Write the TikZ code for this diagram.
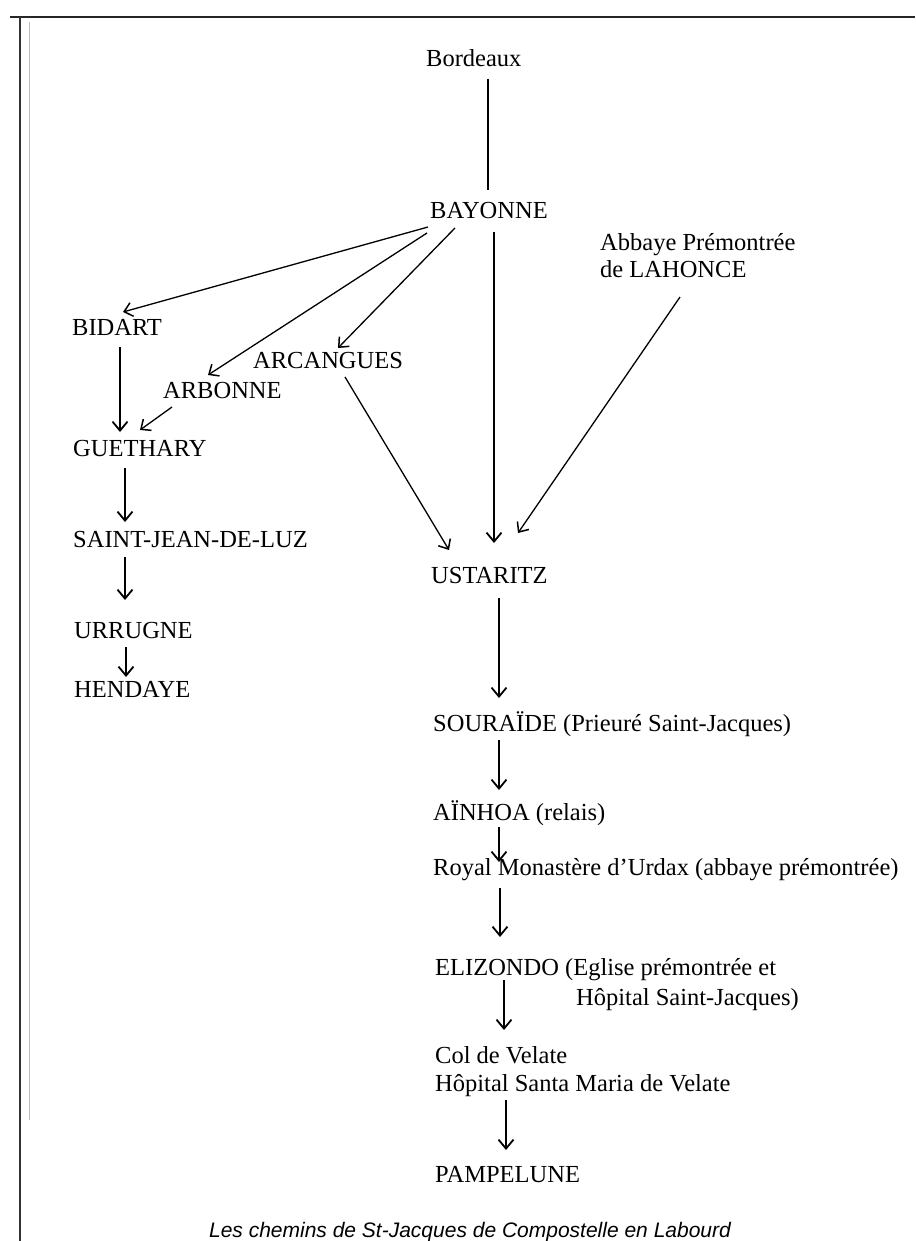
\documentclass[tikz,border=0pt]{standalone}
\usepackage{fontspec}
\setmainfont{Liberation Serif}
\newfontfamily\capfont{Liberation Sans}
\usetikzlibrary{arrows.meta}
\begin{document}
\begin{tikzpicture}[x=1pt,y=-1pt,
  place/.style={anchor=west,inner sep=0pt,text height=18pt,text depth=5.5pt,font=\fontsize{24.5}{27}\selectfont},
  placetwo/.style={anchor=west,inner sep=0pt,font=\fontsize{24.5}{27}\selectfont},
  arr/.style={line width=1.8pt,-{Straight Barb[length=9pt,width=15pt,line width=1.8pt]}},
  darr/.style={line width=1.3pt,-{Straight Barb[length=8pt,width=14pt,line width=1.5pt]}},
  plain/.style={line width=1.5pt}]
\useasboundingbox (0,0) rectangle (915,1241);
% frame
\draw[line width=2.5pt,black!85] (10,17) -- (915,17);
\draw[line width=2pt,black!80] (20,17) -- (20,1241);
\draw[line width=0.6pt,black!25] (29,22) -- (29,1120);
% nodes
\node[place] (bord) at (426,60) {Bordeaux};
\node[place] (bay) at (430,212) {BAYONNE};
\node[placetwo] (lah) at (600,259) {\begin{tabular}{@{}l@{}}Abbaye Prémontrée\\de LAHONCE\end{tabular}};
\node[place] (bid) at (72,329) {BIDART};
\node[place] (arc) at (253,362) {ARCANGUES};
\node[place] (arb) at (163,392) {ARBONNE};
\node[place] (gue) at (73,450) {GUETHARY};
\node[place] (sjl) at (73,541) {SAINT-JEAN-DE-LUZ};
\node[place] (urr) at (74,632) {URRUGNE};
\node[place] (hen) at (74,691) {HENDAYE};
\node[place] (ust) at (431,577) {USTARITZ};
\node[place] (sou) at (433,725) {SOURAÏDE (Prieuré Saint-Jacques)};
\node[place] (ain) at (433,814) {AÏNHOA (relais)};
\node[place] (roy) at (433,869) {Royal Monastère d'Urdax (abbaye prémontrée)};
\node[placetwo] (eli) at (435,984.7) {\begin{tabular}{@{}l@{}}ELIZONDO (Eglise prémontrée et\\[3pt]\hspace{141pt}Hôpital Saint-Jacques)\end{tabular}};
\node[placetwo] (col) at (435,1071.7) {\begin{tabular}{@{}l@{}}Col de Velate\\[1pt]Hôpital Santa Maria de Velate\end{tabular}};
\node[place] (pam) at (435,1176) {PAMPELUNE};
\node[inner sep=0pt,font=\capfont\itshape\fontsize{21}{24}\selectfont] (cap) at (470,1232) {Les chemins de St-Jacques de Compostelle en Labourd};
% connectors
\draw[plain] ([shift={(62,19)}]bord.west) -- ([shift={(58,-22)}]bay.west);
\draw[arr] ([shift={(64,20)}]bay.west) -- ([shift={(63,-34)}]ust.west);
\draw[darr] ([shift={(80,38)}]lah.west) -- ([shift={(87,-44)}]ust.west);
\draw[darr] ([shift={(92,15)}]arc.west) -- ([shift={(18,-27)}]ust.west);
\draw[darr] ([shift={(-2,15)}]bay.west) -- ([shift={(51,-17)}]bid.west);
\draw[darr] ([shift={(-3,21)}]bay.west) -- ([shift={(45,-17)}]arb.west);
\draw[darr] ([shift={(25,16)}]bay.west) -- ([shift={(85,-14)}]arc.west);
\draw[arr] ([shift={(48,18)}]bid.west) -- ([shift={(47,-18)}]gue.west);
\draw[darr] ([shift={(9,15)}]arb.west) -- ([shift={(67,-20)}]gue.west);
\draw[arr] ([shift={(52,18)}]gue.west) -- ([shift={(52,-19)}]sjl.west);
\draw[arr] ([shift={(52,16)}]sjl.west) -- ([shift={(51,-32)}]urr.west);
\draw[arr] ([shift={(52,15)}]urr.west) -- ([shift={(52,-14)}]hen.west);
\draw[arr] ([shift={(68,21)}]ust.west) -- ([shift={(66,-27)}]sou.west);
\draw[arr] ([shift={(66,15)}]sou.west) -- ([shift={(66,-24)}]ain.west);
\draw[arr] ([shift={(66,13)}]ain.west) -- ([shift={(66,-7)}]roy.west);
\draw[arr] ([shift={(67,19)}]roy.west) -- ([shift={(65,-47.7)}]eli.west);
\draw[arr] ([shift={(69,-4.7)}]eli.west) -- ([shift={(69,-41.7)}]col.west);
\draw[arr] ([shift={(71,28.3)}]col.west) -- ([shift={(71,-26)}]pam.west);
\end{tikzpicture}
\end{document}
